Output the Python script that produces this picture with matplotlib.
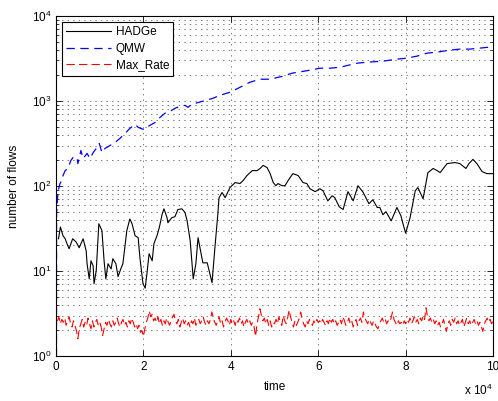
import numpy as np
import matplotlib
matplotlib.use('Agg')
from matplotlib import pyplot as plt
from matplotlib.ticker import LogLocator, NullFormatter

plt.rcParams['font.family'] = ['Liberation Sans', 'DejaVu Sans']
plt.rcParams['mathtext.fontset'] = 'custom'
plt.rcParams['mathtext.rm'] = 'Liberation Sans'
plt.rcParams['lines.scale_dashes'] = False

# time in units of 1e4
hadge_t = [0.057, 0.10, 0.16, 0.21, 0.25, 0.30, 0.38, 0.46, 0.53, 0.62, 0.69, 0.71, 0.76, 0.80,
           0.85, 0.87, 0.92, 0.98, 1.05, 1.10, 1.14, 1.19, 1.26, 1.30, 1.37, 1.42, 1.49, 1.53,
           1.62, 1.69, 1.74, 1.81, 1.88, 1.92, 1.99, 2.04, 2.08, 2.13, 2.20, 2.24, 2.31, 2.36,
           2.43, 2.47, 2.54, 2.56, 2.65, 2.72, 2.79, 2.88, 2.95, 3.00, 3.07, 3.14, 3.20, 3.25,
           3.36, 3.46, 3.57, 3.64, 3.70, 3.73, 3.80, 3.87, 3.98, 4.10, 4.21, 4.28, 4.37, 4.49,
           4.60, 4.67, 4.74, 4.83, 4.90, 4.97, 5.03, 5.08, 5.17, 5.24, 5.31, 5.42, 5.54, 5.65,
           5.74, 5.81, 5.93, 6.04, 6.11, 6.22, 6.32, 6.38, 6.48, 6.57, 6.68, 6.80, 6.91, 7.03,
           7.16, 7.25, 7.35, 7.41, 7.48, 7.55, 7.67, 7.80, 7.89, 7.96, 8.00, 8.10, 8.22, 8.28,
           8.40, 8.51, 8.63, 8.72, 8.79, 8.95, 9.13, 9.24, 9.38, 9.45, 9.54, 9.63, 9.75, 9.86, 10.0]
hadge_v = [24, 33, 26, 24, 21, 18.3, 24, 22, 18.8, 24, 17.3, 12.2, 8.1, 13.2,
           11.5, 7.1, 10.1, 36, 30, 13.2, 8.1, 12.2, 10.6, 14, 12.2, 8.6, 10.9, 12.2,
           30, 41, 36, 26, 24.7, 14.3, 7.1, 6.3, 9.3, 16, 13.2, 21, 26, 32,
           47, 54, 42.5, 37, 42.5, 43.6, 53, 54, 49, 39, 22.8, 8.1, 12.2, 24.7,
           12.5, 12.5, 7.3, 20, 45, 73, 84, 73, 96, 110, 107, 116, 133, 152,
           152, 161, 175, 165, 140, 110, 101, 107, 101, 101, 116, 140, 133, 110,
           107, 93, 86, 93, 88, 67, 77, 73, 57, 53, 86, 67, 101, 84,
           62, 69, 56, 56, 46, 50, 39, 56, 45, 33, 28, 42, 88, 96,
           71, 144, 161, 152, 144, 184, 189, 184, 161, 184, 206, 184, 148, 140, 140]

qmw_t = [0.01, 0.012, 0.03, 0.05, 0.09, 0.13, 0.16, 0.21, 0.27, 0.34, 0.39, 0.48, 0.50, 0.57,
         0.62, 0.71, 0.78, 0.85, 0.94, 0.99, 1.05, 1.12, 1.24, 1.35, 1.46, 1.58, 1.69, 1.81,
         1.88, 2.00, 2.08, 2.15, 2.27, 2.38, 2.49, 2.61, 2.72, 2.84, 2.95, 3.02, 3.11, 3.59,
         3.75, 3.98, 4.21, 4.39, 4.44, 4.67, 4.90, 5.19, 5.40, 5.81, 6.04, 6.27, 6.50, 6.89,
         7.12, 7.48, 7.80, 8.03, 8.26, 8.49, 8.72, 9.02, 9.24, 9.47, 9.70, 9.93, 10.0]
qmw_v = [1.0, 47, 67, 88, 107, 116, 133, 152, 161, 200, 217, 217, 184, 262,
         211, 242, 211, 248, 285, 317, 248, 277, 301, 326, 363, 416, 477, 532,
         490, 464, 490, 518, 561, 643, 717, 757, 821, 867, 891, 844, 916, 1077,
         1169, 1268, 1452, 1620, 1665, 1806, 1806, 1960, 2126, 2306, 2434, 2434, 2501, 2789,
         2866, 2945, 3110, 3196, 3375, 3661, 3762, 3973, 4083, 4083, 4195, 4311, 4311]

maxrate_v = [2.6, 2.9, 2.4, 2.7, 2.5, 2.8, 2.3, 2.6, 2.9, 2.4, 2.2, 2.6, 2.3, 2.0, 1.6,
             2.1, 2.4, 2.7, 2.2, 2.5, 2.3, 2.8, 2.4, 2.1, 2.6, 2.2, 2.5, 2.7, 2.3, 2.5,
             2.2, 1.75, 2.1, 2.5, 2.3, 2.7, 2.4, 2.2, 2.6, 2.3, 2.5, 2.8, 2.4, 2.2, 2.5,
             2.7, 2.3, 2.5, 2.2, 2.6, 2.4, 2.8, 2.5, 2.2, 2.4, 2.1, 2.3, 1.9, 2.0, 1.7,
             2.1, 2.5, 2.8, 3.4, 2.9, 3.1, 2.6, 2.8, 2.5, 2.9, 2.4, 2.7, 2.3, 2.6, 2.4,
             2.8, 2.5, 2.3, 2.6, 2.9, 3.1, 2.6, 2.4, 2.7, 2.2, 2.5, 2.8, 2.4, 2.6, 2.3,
             2.5, 2.2, 2.6, 2.4, 2.8, 2.3, 2.5, 2.7, 2.4, 2.6, 2.9, 2.5, 2.3, 2.6, 2.4,
             2.7, 3.3, 2.8, 2.5, 2.3, 2.6, 2.9, 2.4, 2.6, 2.2, 2.5, 2.8, 2.6, 2.3, 2.7,
             2.4, 2.6, 2.3, 2.7, 2.5, 2.8, 2.4, 2.6, 2.2, 2.5, 2.7, 2.4, 2.6, 2.3, 2.5,
             2.2, 1.7, 2.4, 2.9, 3.6, 3.0, 2.6, 2.8, 2.4, 2.7, 2.3, 2.6, 2.2, 2.5, 2.4,
             2.7, 2.4, 2.9, 2.5, 2.3, 3.0, 2.6, 2.4, 2.8, 3.5, 2.9, 2.5, 2.2, 2.6, 2.3,
             2.5, 2.8, 3.3, 2.7, 2.4, 2.2, 2.6, 2.4, 2.7, 2.5, 2.3, 2.6, 2.4, 2.7, 2.5,
             2.6, 2.4, 2.7, 2.5, 2.3, 2.6, 2.4, 2.8, 2.5, 2.7, 2.4, 2.6, 2.3, 2.5, 2.7,
             2.4, 2.9, 2.6, 2.3, 2.5, 2.8, 2.4, 2.6, 2.2, 2.5, 2.7, 2.3, 2.6, 2.8, 2.5,
             3.3, 2.8, 2.6, 2.4, 2.7, 2.5, 2.3, 2.6, 2.4, 2.2, 2.1, 2.4, 2.6, 2.8, 2.5,
             2.7, 2.4, 2.6, 2.5, 2.8, 3.3, 2.7, 2.5, 2.3, 2.6, 2.4, 2.5, 2.3, 2.6, 2.4,
             2.7, 2.5, 2.8, 2.4, 2.6, 2.9, 2.5, 2.7, 2.4, 2.8, 2.6, 3.0, 2.7, 3.7, 2.9,
             2.6, 2.8, 2.5, 2.7, 2.4, 2.6, 2.3, 2.5, 2.2, 2.4, 2.7, 2.3, 1.95, 2.4, 2.6,
             2.3, 2.7, 2.5, 2.8, 2.4, 2.6, 2.3, 2.5, 2.7, 2.2, 2.5, 2.8, 2.4, 2.6, 2.3,
             2.5, 2.7, 2.4, 2.6, 2.3, 2.5, 2.2, 1.95, 2.4, 2.6, 2.8, 2.5, 2.7, 2.4, 2.6]
maxrate_t = np.linspace(0.033, 10.0, len(maxrate_v))

xticks = [0, 2, 4, 6, 8, 10]

fig = plt.figure(figsize=(4.98, 4.01), dpi=100)
ax = fig.add_axes([0.1125, 0.112, 0.8775, 0.848])

ax.plot(hadge_t, hadge_v, color='k', lw=0.8, label='HADGe')
ax.plot(qmw_t, qmw_v, color='b', lw=0.9, dashes=(6, 4), label='QMW')
ax.plot(maxrate_t, maxrate_v, color='r', lw=0.8, dashes=(6, 3), label='Max_Rate')

ax.set_yscale('log')
ax.set_xlim(0, 10)
ax.set_ylim(1, 1e4)
ax.set_xticks(xticks)
ax.set_xticklabels([str(v) for v in xticks])
ax.yaxis.set_minor_locator(LogLocator(base=10, subs=np.arange(2, 10)))
ax.yaxis.set_minor_formatter(NullFormatter())

ax.tick_params(which='both', direction='in', top=True, right=True, labelsize=8.5, colors='k')
ax.tick_params(which='major', length=4, width=0.6)
ax.tick_params(which='minor', length=2, width=0.5)
ax.grid(True, which='major', axis='both', linestyle=(0, (1, 3)), color='0.4', lw=0.6)
ax.grid(True, which='minor', axis='y', linestyle=(0, (1, 3)), color='0.4', lw=0.6)
for s in ax.spines.values():
    s.set_linewidth(0.8)

ax.set_xlabel('time', fontsize=8.5, labelpad=6)
ax.set_ylabel('number of flows', fontsize=8.5, labelpad=8)
ax.text(1.0, -0.078, r'x 10$^{4}$', transform=ax.transAxes, fontsize=8.5, ha='right', va='top')

leg = ax.legend(loc='upper left', fontsize=8.5, handlelength=3.8, handletextpad=0.4,
                labelspacing=0.4, borderaxespad=0.5, borderpad=0.35, fancybox=False,
                framealpha=1, edgecolor='k')
leg.get_frame().set_linewidth(0.8)

plt.savefig('out.png', dpi=100)
